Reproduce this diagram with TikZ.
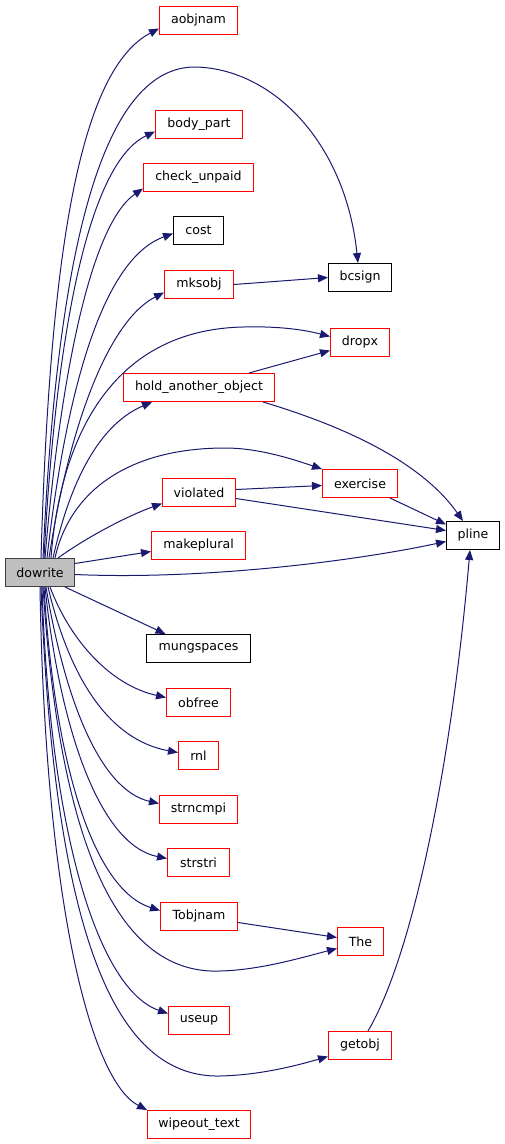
\documentclass[tikz,border=0pt]{standalone}
\usepackage{fontspec}
\setmainfont{DejaVu Sans}
\usetikzlibrary{arrows.meta}
\definecolor{edgeblue}{HTML}{191970}
\definecolor{nodegray}{HTML}{BFBFBF}
\definecolor{nodered}{HTML}{FF0000}
\definecolor{graybd}{HTML}{404040}
\begin{document}
\begin{tikzpicture}[x=1pt,y=-1pt,
  fn/.style={rectangle,draw=nodered,fill=white,line width=1pt,inner sep=0pt,minimum height=28pt,font=\fontsize{12.6}{15}\selectfont},
  fb/.style={fn,draw=black},
  edge/.style={draw=edgeblue,line width=1pt,-{Triangle[length=10pt,width=8pt]}}]
\useasboundingbox (0,0) rectangle (504,1144);
% nodes
\node[fn,fill=nodegray,draw=graybd,minimum width=69pt] (dowrite) at (40,572.5) {dowrite};
\node[fn,minimum width=78pt] (aobjnam) at (198.5,20.5) {aobjnam};
\node[fn,minimum width=87pt] (bodypart) at (199,124.5) {body\_part};
\node[fn,minimum width=110pt] (checkunpaid) at (198.5,177.5) {check\_unpaid};
\node[fb,minimum width=50pt] (cost) at (198.5,230.5) {cost};
\node[fn,minimum width=69pt] (mksobj) at (199,284.5) {mksobj};
\node[fb,minimum width=63pt] (bcsign) at (360,277.5) {bcsign};
\node[fn,minimum width=59pt] (dropx) at (360,342.5) {dropx};
\node[fn,minimum width=151pt] (hold) at (199,387.5) {hold\_another\_object};
\node[fn,minimum width=75pt] (exercise) at (360,483.5) {exercise};
\node[fn,minimum width=73pt] (violated) at (199,492.5) {violated};
\node[fb,minimum width=53pt] (pline) at (473,535.5) {pline};
\node[fn,minimum width=94pt] (makeplural) at (198.5,545.5) {makeplural};
\node[fb,minimum width=104pt] (mungspaces) at (198.5,648.5) {mungspaces};
\node[fn,minimum width=64pt] (obfree) at (198.5,702.5) {obfree};
\node[fn,minimum width=40pt] (rnl) at (198.5,755.5) {rnl};
\node[fn,minimum width=78pt] (strncmpi) at (198.5,809.5) {strncmpi};
\node[fn,minimum width=62pt] (strstri) at (198.5,862.5) {strstri};
\node[fn,minimum width=77pt] (Tobjnam) at (199,916.5) {Tobjnam};
\node[fn,minimum width=46pt] (The) at (360.5,941.5) {The};
\node[fn,minimum width=61pt] (useup) at (199,1020.5) {useup};
\node[fn,minimum width=63pt] (getobj) at (360,1045.5) {getobj};
\node[fn,minimum width=103pt] (wipeout) at (199,1124.5) {wipeout\_text};
% edges from dowrite (top)
\draw[edge] ([xshift=1pt]dowrite.north) .. controls (50,250) and (80,70) .. ([yshift=-8pt]aobjnam.west);
\draw[edge] ([xshift=3pt]dowrite.north) .. controls (55,300) and (90,70) .. (193,67) .. controls (270,67) and (345,140) .. ([xshift=-2pt]bcsign.north);
\draw[edge] ([xshift=4pt]dowrite.north) .. controls (55,350) and (85,165) .. ([yshift=-7pt]bodypart.west);
\draw[edge] ([xshift=5pt]dowrite.north) .. controls (60,380) and (90,225) .. ([yshift=-11pt]checkunpaid.west);
\draw[edge] ([xshift=7pt]dowrite.north) .. controls (65,400) and (100,260) .. ([yshift=-3pt]cost.west);
\draw[edge] ([xshift=9pt]dowrite.north) .. controls (70,420) and (110,320) .. ([yshift=-8pt]mksobj.west);
\draw[edge] (mksobj.east) -- (bcsign.west);
\draw[edge] ([xshift=11pt]dowrite.north) .. controls (60,440) and (110,330) .. (243,327) .. controls (280,326) and (305,330) .. ([yshift=6pt]dropx.west);
\draw[edge] ([xshift=13pt]dowrite.north) .. controls (75,460) and (110,420) .. ([xshift=-47pt]hold.south);
\draw[edge] ([xshift=50pt]hold.north) -- ([yshift=-8pt]dropx.west);
\draw[edge] ([xshift=64pt]hold.south) .. controls (340,425) and (420,460) .. ([xshift=-10pt]pline.north);
\draw[edge] ([xshift=15pt]dowrite.north) .. controls (70,490) and (130,448) .. (225,448) .. controls (260,448) and (295,460) .. (exercise.north west);
\draw[edge] ([xshift=18pt]dowrite.north) .. controls (90,535) and (130,515) .. ([yshift=-11pt]violated.west);
\draw[edge] ([yshift=3pt]violated.east) -- ([yshift=-2pt]exercise.west);
\draw[edge] ([yshift=-6pt]violated.east) -- ([yshift=5pt]pline.west);
\draw[edge] ([xshift=30pt]exercise.south) -- ([yshift=11pt]pline.west);
% edges from dowrite (side)
\draw[edge] ([yshift=9pt]dowrite.east) -- ([yshift=-6pt]makeplural.west);
\draw[edge] ([yshift=-2pt]dowrite.east) .. controls (200,580) and (350,562) .. ([yshift=-6pt]pline.west);
% edges from dowrite (bottom)
\draw[edge] ([xshift=25pt]dowrite.south) -- ([xshift=-33pt]mungspaces.north);
\draw[edge] ([xshift=10pt]dowrite.south) .. controls (70,640) and (110,685) .. ([yshift=5pt]obfree.west);
\draw[edge] ([xshift=8pt]dowrite.south) .. controls (70,680) and (110,740) .. ([yshift=3pt]rnl.west);
\draw[edge] ([xshift=6pt]dowrite.south) .. controls (65,700) and (100,790) .. ([yshift=6pt]strncmpi.west);
\draw[edge] ([xshift=5pt]dowrite.south) .. controls (60,730) and (100,845) .. ([yshift=4pt]strstri.west);
\draw[edge] ([xshift=4pt]dowrite.south) .. controls (55,770) and (95,890) .. ([yshift=6pt]Tobjnam.west);
\draw[edge] ([yshift=-6pt]Tobjnam.east) -- ([yshift=4pt]The.west);
\draw[edge] ([xshift=3pt]dowrite.south) .. controls (60,850) and (120,975) .. (220,971) .. controls (260,970) and (300,958) .. ([yshift=-7pt]The.west);
\draw[edge] ([xshift=2pt]dowrite.south) .. controls (50,840) and (100,990) .. ([yshift=7pt]useup.west);
\draw[edge] ([xshift=1pt]dowrite.south) .. controls (55,950) and (120,1078) .. (220,1076) .. controls (260,1075) and (295,1066) .. ([yshift=-11pt]getobj.west);
\draw[edge] (dowrite.south) .. controls (45,900) and (90,1080) .. (wipeout.north west);
\draw[edge] ([xshift=8pt]getobj.north) .. controls (410,960) and (450,780) .. ([xshift=-3pt]pline.south);
\end{tikzpicture}
\end{document}
